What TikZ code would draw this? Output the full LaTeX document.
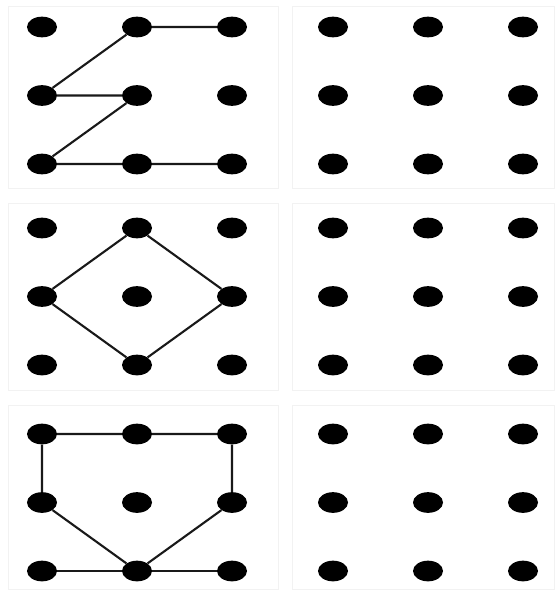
\documentclass[tikz,border=0pt]{standalone}
\usetikzlibrary{shapes.geometric}

\begin{document}
\begin{tikzpicture}[
    x=0.03cm, y=-0.03cm,
    dot/.style={ellipse, fill=black, inner sep=0pt, minimum width=0.9cm, minimum height=0.62cm},
    panel/.style={draw=black!5, line width=0.6pt},
    edge/.style={line width=1.8pt, draw=black!90}
]
\useasboundingbox (0,0) rectangle (559,593);
% cornici dei sei riquadri
\foreach \x/\w in {8/270, 292/262}
  \foreach \y/\h in {6/182, 203/187, 405/184}
    \draw[panel] (\x,\y) rectangle ++(\w,\h);

% griglie di punti: a,b,c a sinistra, d,e,f a destra
\foreach \p/\cx/\ry in {a/0/27, b/0/228, c/0/434, d/291/27, e/291/228, f/291/434}
  \foreach \r in {1,2,3}
    \foreach \c in {1,2,3}
      \node[dot] (\p\r\c) at ({\cx+42+95*(\c-1)}, {\ry+68.5*(\r-1)}) {};

% primo schema
\draw[edge] (a13) -- (a12) -- (a21) -- (a22) -- (a31) -- (a32) -- (a33);

% secondo schema
\draw[edge] (b12) -- (b23) -- (b32) -- (b21) -- (b12);

% terzo schema
\draw[edge] (c31) -- (c32) -- (c33);
\draw[edge] (c21) -- (c11) -- (c12) -- (c13) -- (c23) -- (c32) -- (c21);
\end{tikzpicture}
\end{document}
